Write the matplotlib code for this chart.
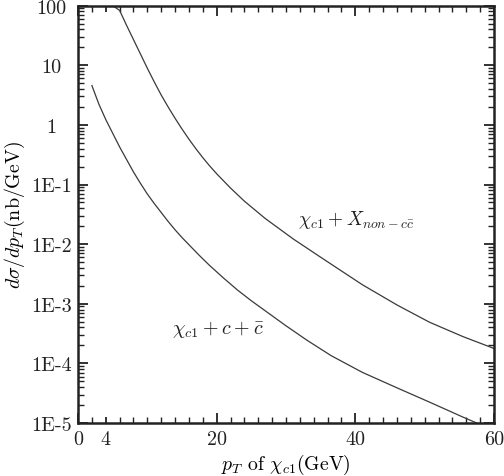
import numpy as np
import matplotlib
matplotlib.use("Agg")
import matplotlib.pyplot as plt
from matplotlib.ticker import FixedLocator, LogLocator, NullFormatter

# values (pT in GeV, log10 of dsigma/dpT in nb/GeV)
pt_noncc = np.array([4.6, 5.0, 6.0, 7.0, 8.0, 9.0, 10.0, 11.0, 12.0, 13.0, 14.0,
                     15.0, 16.0, 17.0, 18.0, 19.0, 20.0, 22.0, 24.0, 27.0, 31.0,
                     35.0, 38.0, 41.0, 46.0, 50.7, 55.5, 60.0])
log_noncc = np.array([2.03, 2.00, 1.92, 1.67, 1.43, 1.19, 0.95, 0.72, 0.50, 0.30, 0.11,
                      -0.07, -0.24, -0.40, -0.55, -0.69, -0.82, -1.06, -1.28, -1.57, -1.91,
                      -2.22, -2.45, -2.68, -3.02, -3.31, -3.55, -3.75])
sigma_noncc = 10.0 ** log_noncc

pt_ccbar = np.array([2.0, 3.0, 4.0, 5.0, 6.0, 7.0, 8.0, 9.0, 10.0, 11.0, 12.0, 13.0,
                     14.0, 15.0, 16.0, 17.5, 19.0, 21.0, 23.0, 25.0, 27.5, 30.0, 33.0,
                     36.5, 41.0, 46.0, 50.7, 55.5, 58.5])
log_ccbar = np.array([0.66, 0.35, 0.09, -0.14, -0.37, -0.58, -0.79, -0.98, -1.16, -1.32, -1.47, -1.62,
                      -1.76, -1.89, -2.01, -2.19, -2.36, -2.57, -2.77, -2.95, -3.16, -3.37, -3.61,
                      -3.87, -4.15, -4.41, -4.65, -4.90, -5.05])
sigma_ccbar = 10.0 ** log_ccbar

xticks = [0, 4, 20, 40, 60]
yticks = [1e2, 1e1, 1e0, 1e-1, 1e-2, 1e-3, 1e-4, 1e-5]
ylabels = ["100", "10", "1", "1E-1", "1E-2", "1E-3", "1E-4", "1E-5"]

plt.rcParams["font.family"] = "serif"
plt.rcParams["font.serif"] = ["cmr10", "DejaVu Serif"]
plt.rcParams["mathtext.fontset"] = "cm"
plt.rcParams["axes.formatter.use_mathtext"] = True

fig = plt.figure(figsize=(5.04, 4.77), dpi=100)
ax = fig.add_axes([0.1548, 0.1111, 0.8254, 0.875])

line_color = "#3a3a3a"
ax.plot(pt_noncc, sigma_noncc, color=line_color, lw=0.9)
ax.plot(pt_ccbar, sigma_ccbar, color=line_color, lw=0.9)

ax.set_yscale("log")
ax.set_xlim(0, 60)
ax.set_ylim(1e-5, 100)

ax.set_xticks(xticks)
ax.set_xticklabels([str(v) for v in xticks])
ax.xaxis.set_minor_locator(FixedLocator(np.arange(0, 61, 2)))
ax.set_yticks(yticks)
ax.set_yticklabels(ylabels)
ax.yaxis.set_minor_locator(LogLocator(base=10, subs=np.arange(2, 10), numticks=20))
ax.yaxis.set_minor_formatter(NullFormatter())

ax.tick_params(which="both", direction="in", top=True, right=True, colors="#222222")
ax.tick_params(which="major", length=7, width=1.3, labelsize=14.5)
ax.tick_params(which="minor", length=4, width=1.0)
ax.tick_params(axis="x", which="major", pad=5)
ax.tick_params(axis="y", which="major", pad=19)
for lab in ax.get_yticklabels():
    lab.set_horizontalalignment("center")
# the tick at 4 is labelled but drawn like a minor tick
t4 = ax.xaxis.get_major_ticks()[1]
t4.tick1line.set_markersize(4)
t4.tick2line.set_markersize(4)

for s in ax.spines.values():
    s.set_linewidth(1.8)
    s.set_color("#222222")

ax.set_xlabel(r"$p_T$ of $\chi_{c1}$(GeV)", fontsize=14.2, labelpad=3)
ax.set_ylabel(r"$d\sigma/dp_T(\mathrm{nb/GeV})$", fontsize=14.3, labelpad=3)

ax.text(31.7, 0.0264, r"$\chi_{c1}+X_{non-c\bar{c}}$", fontsize=14,
        ha="left", va="center", color="#222222")
ax.text(13.5, 3.8e-4, r"$\chi_{c1}+c+\bar{c}$", fontsize=14.5,
        ha="left", va="center", color="#222222")

fig.savefig("out.png", dpi=100)
